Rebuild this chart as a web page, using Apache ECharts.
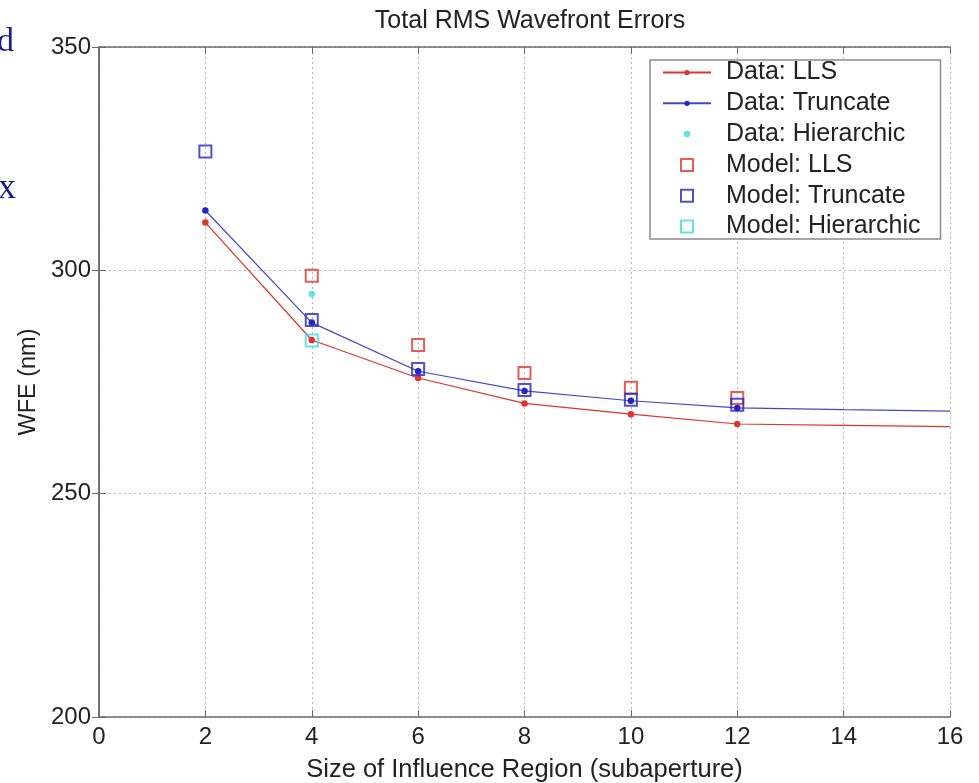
<!DOCTYPE html>
<html><head><meta charset="utf-8">
<script src="https://cdn.jsdelivr.net/npm/echarts@6/dist/echarts.min.js"></script>
<style>html,body{margin:0;padding:0;background:#fff}#c{width:979px;height:783px}</style>
</head><body><div id="c"></div>
<script>
// ---- data ----
const xTicks = [0, 2, 4, 6, 8, 10, 12, 14, 16];
const yTicks = [200, 250, 300, 350];
const dataLLS_x = [2, 4, 6, 8, 10, 12, 14, 16];
const dataLLS_y = [310.7, 284.4, 275.9, 270.2, 267.8, 265.6, 265.3, 265.0];
const dataTrunc_x = [2, 4, 6, 8, 10, 12, 14, 16];
const dataTrunc_y = [313.4, 288.3, 277.4, 273.0, 270.8, 269.2, 268.8, 268.5];
const dataHier_x = [4];
const dataHier_y = [294.7];
const modelLLS_x = [4, 6, 8, 10, 12];
const modelLLS_y = [298.8, 283.3, 277.0, 273.7, 271.4];
const modelTrunc_x = [2, 4, 6, 8, 10, 12];
const modelTrunc_y = [326.6, 288.9, 277.9, 273.2, 271.0, 269.9];
const modelHier_x = [4];
const modelHier_y = [284.3];
const markedUpTo = 12; // measured points carry markers up to x = 12

const RED = '#e2332c', BLUE = '#2424c8', CYAN = '#3fdcdc';
const FONT = 'Liberation Sans';
// small dot inside a padded 12x12 box, and a square
const DOT = 'path://M0,0M12,12M6,2.75A3.25,3.25,0,1,1,6,9.25A3.25,3.25,0,1,1,6,2.75Z';
const SQUARE = 'path://M0,0H10V10H0Z';

function pts(xs, ys, withMarkerLimit) {
  return xs.map((x, i) => {
    const p = { value: [x, ys[i]] };
    if (withMarkerLimit !== undefined && x > withMarkerLimit) p.symbolSize = 0;
    return p;
  });
}

const chart = echarts.init(document.getElementById('c'), null, { renderer: 'canvas' });
const axisFrame = { show: true, lineStyle: { color: '#6a6a6a', width: 1.5 } };
const tick = { show: true, inside: true, length: 7, lineStyle: { color: '#6a6a6a' } };
const grid = { show: true, lineStyle: { color: '#b8b8b8', type: [2, 3], width: 1 } };
const option = {
  backgroundColor: '#fff',
  animation: false,
  textStyle: { fontFamily: FONT },
  title: {
    text: 'Total RMS Wavefront Errors',
    left: 525, top: 4, textAlign: 'center',
    textStyle: { fontFamily: FONT, fontSize: 25, fontWeight: 'normal', color: '#222' }
  },
  grid: { left: 99, right: 29, top: 47, bottom: 66, show: false, containLabel: false, outerBoundsMode: 'none' },
  xAxis: [{
    type: 'value', min: xTicks[0], max: xTicks[xTicks.length - 1], interval: 2,
    name: 'Size of Influence Region (subaperture)', nameLocation: 'middle', nameGap: 40,
    nameTextStyle: { fontFamily: FONT, fontSize: 25.5, color: '#222' },
    axisLine: axisFrame, axisTick: tick,
    axisLabel: { fontFamily: FONT, fontSize: 24, color: '#222', margin: 8 },
    splitLine: grid
  }, {
    type: 'value', position: 'top', min: xTicks[0], max: xTicks[xTicks.length - 1], interval: 2,
    axisLine: axisFrame, axisTick: tick,
    axisLabel: { show: false }, splitLine: { show: false }
  }],
  yAxis: [{
    type: 'value', min: yTicks[0], max: yTicks[yTicks.length - 1], interval: 50,
    name: 'WFE (nm)', nameLocation: 'middle', nameGap: 54, nameRotate: 90,
    nameTextStyle: { fontFamily: FONT, fontSize: 23.5, color: '#222' },
    axisLine: axisFrame, axisTick: tick,
    axisLabel: { fontFamily: FONT, fontSize: 24, color: '#222', margin: 8 },
    splitLine: grid
  }, {
    type: 'value', position: 'right', min: yTicks[0], max: yTicks[yTicks.length - 1], interval: 50,
    axisLine: axisFrame, axisTick: tick,
    axisLabel: { show: false }, splitLine: { show: false }
  }],
  legend: {
    orient: 'vertical', left: 650, top: 60,
    padding: [0, 20, 0, 12],
    itemWidth: 48, itemHeight: 12, itemGap: 5.8,
    symbolKeepAspect: true,
    backgroundColor: '#fff', borderColor: '#8a8a8a', borderWidth: 1.5,
    textStyle: { fontFamily: FONT, fontSize: 25, color: '#222', lineHeight: 24, padding: [0, 0, 0, 10] },
    data: ['Data: LLS', 'Data: Truncate', 'Data: Hierarchic', 'Model: LLS', 'Model: Truncate', 'Model: Hierarchic']
  },
  graphic: [
    { type: 'text', left: -3, top: 25, style: { text: 'd', font: '34px "Liberation Serif"', fill: '#1b1b8f' } },
    { type: 'text', left: -2, top: 171, style: { text: 'x', font: '36px "Liberation Serif"', fill: '#1b1b8f' } }
  ],
  series: [
    { name: 'Data: LLS', type: 'line', data: pts(dataLLS_x, dataLLS_y, markedUpTo),
      symbol: DOT, symbolSize: 12, showAllSymbol: true,
      lineStyle: { color: RED, width: 1.2 }, itemStyle: { color: RED }, z: 2 },
    { name: 'Data: Truncate', type: 'line', data: pts(dataTrunc_x, dataTrunc_y, markedUpTo),
      symbol: DOT, symbolSize: 12, showAllSymbol: true,
      lineStyle: { color: BLUE, width: 1.2, opacity: 0.85 }, itemStyle: { color: BLUE }, z: 2 },
    { name: 'Data: Hierarchic', type: 'scatter', data: pts(dataHier_x, dataHier_y),
      symbol: DOT, symbolSize: 12, symbolKeepAspect: true, itemStyle: { color: CYAN }, z: 3 },
    { name: 'Model: LLS', type: 'scatter', data: pts(modelLLS_x, modelLLS_y),
      symbol: SQUARE, symbolSize: 12, symbolKeepAspect: true,
      itemStyle: { color: 'rgba(255,255,255,0)', borderColor: RED, borderWidth: 2 }, z: 4 },
    { name: 'Model: Truncate', type: 'scatter', data: pts(modelTrunc_x, modelTrunc_y),
      symbol: SQUARE, symbolSize: 12, symbolKeepAspect: true,
      itemStyle: { color: 'rgba(255,255,255,0)', borderColor: BLUE, borderWidth: 2 }, z: 5 },
    { name: 'Model: Hierarchic', type: 'scatter', data: pts(modelHier_x, modelHier_y),
      symbol: SQUARE, symbolSize: 12, symbolKeepAspect: true,
      itemStyle: { color: 'rgba(255,255,255,0)', borderColor: CYAN, borderWidth: 2 }, z: 6 }
  ]
};
chart.setOption(option);
</script>
</body></html>
